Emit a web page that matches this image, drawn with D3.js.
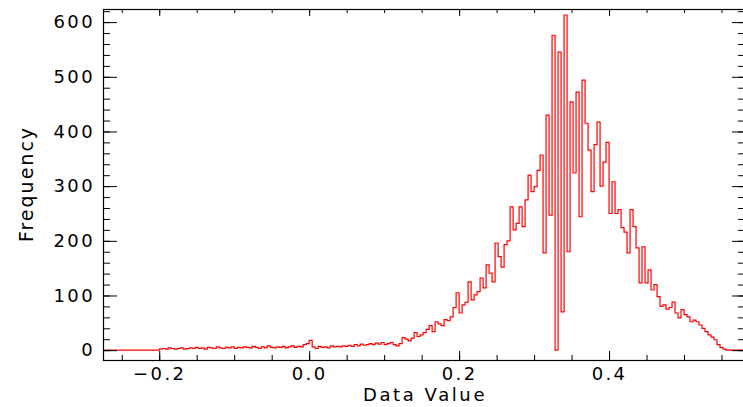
<!DOCTYPE html>
<html>
<head>
<meta charset="utf-8">
<script src="https://cdn.jsdelivr.net/npm/d3@7"></script>
<style>
  body { margin: 0; background: #fff; }
  svg text { font-family: "DejaVu Sans", sans-serif; font-size: 19px; letter-spacing: 2px; fill: #000; }
  svg .tick text { font-size: 18px; letter-spacing: 2.4px; }
  svg text.xtitle { font-size: 18px; letter-spacing: 2.6px; }
</style>
</head>
<body>
<svg id="chart" width="743" height="407"></svg>
<script>
// histogram of data values, bins of 0.004 starting at -0.2
const binStart = -0.2
const binWidth = 0.004
const counts = [
  2, 3, 2, 4, 3, 2, 3, 4, 2, 3,
  4, 3, 5, 3, 4, 2, 5, 4, 3, 6,
  4, 3, 5, 4, 6, 3, 5, 4, 6, 5,
  4, 7, 5, 3, 6, 4, 8, 5, 4, 6,
  5, 7, 4, 6, 8, 5, 7, 6, 10, 12,
  18, 6, 3, 7, 5, 6, 4, 8, 6, 7,
  6, 8, 7, 9, 7, 10, 8, 11, 9, 10,
  12, 10, 13, 11, 14, 10, 12, 14, 10, 8,
  12, 23, 20, 17, 22, 32, 25, 28, 32, 38,
  45, 34, 52, 48, 45, 56, 54, 61, 78, 105,
  68, 83, 88, 125, 92, 101, 107, 132, 114, 156,
  141, 125, 196, 171, 152, 193, 200, 262, 220, 232,
  262, 226, 275, 320, 290, 299, 329, 357, 178, 430,
  247, 576, 0, 545, 70, 613, 180, 454, 324, 472,
  244, 494, 415, 366, 290, 376, 417, 300, 344, 380,
  250, 308, 250, 257, 224, 216, 178, 257, 226, 187,
  123, 189, 123, 147, 110, 120, 98, 80, 83, 75,
  78, 88, 68, 59, 74, 65, 61, 52, 55, 52,
  46, 40, 34, 28, 24, 19, 10, 5, 2
]
const xMajor = [-0.2, 0.0, 0.2, 0.4]
const xLabels = ["\u22120.2", "0.0", "0.2", "0.4"]
const yMajor = [0, 100, 200, 300, 400, 500, 600]

const svg = d3.select("#chart")
const mLeft = 103, mRight = 744, mTop = 9, mBottom = 360

const x = d3.scaleLinear().domain([-0.275, 0.58]).range([mLeft, mRight])
const y = d3.scaleLinear().domain([-18, 624]).range([mBottom, mTop])

const xMinor = d3.range(-0.25, 0.58, 0.05).map(v => +v.toFixed(2))
const yMinor = d3.range(0, 624, 20)

svg.append("clipPath").attr("id", "clip")
  .append("rect").attr("x", mLeft).attr("y", mTop).attr("width", mRight - mLeft).attr("height", mBottom - mTop)

// histogram line
const pts = [[x.domain()[0], 0]]
counts.forEach((c, i) => pts.push([binStart + i * binWidth, c]))
pts.push([binStart + counts.length * binWidth, 0])
pts.push([x.domain()[1], 0])

const line = d3.line()
  .x(d => x(d[0]))
  .y(d => y(d[1]))
  .curve(d3.curveStepAfter)

svg.append("path")
  .datum(pts)
  .attr("clip-path", "url(#clip)")
  .attr("fill", "none")
  .attr("stroke", "#ff0000")
  .attr("stroke-width", 1.2)
  .attr("d", line)

// axes
function plain(g) {
  g.select(".domain").remove()
  g.selectAll("line").attr("stroke", "#000")
}

svg.append("g").attr("transform", `translate(0,${mBottom})`)
  .call(d3.axisBottom(x).tickValues(xMinor).tickSize(-5).tickFormat(""))
  .call(plain)
svg.append("g").attr("transform", `translate(0,${mBottom})`)
  .call(d3.axisBottom(x).tickValues(xMajor).tickSize(-9).tickPadding(7)
    .tickFormat((d, i) => xLabels[i]))
  .call(plain)
  .selectAll("text").attr("font-family", null).attr("font-size", null)

svg.append("g").attr("transform", `translate(0,${mTop})`)
  .call(d3.axisTop(x).tickValues(xMinor).tickSize(-4).tickFormat(""))
  .call(plain)
svg.append("g").attr("transform", `translate(0,${mTop})`)
  .call(d3.axisTop(x).tickValues(xMajor).tickSize(-7).tickFormat(""))
  .call(plain)

svg.append("g").attr("transform", `translate(${mLeft},0)`)
  .call(d3.axisLeft(y).tickValues(yMinor).tickSize(-7).tickFormat(""))
  .call(plain)
svg.append("g").attr("transform", `translate(${mLeft},0)`)
  .call(d3.axisLeft(y).tickValues(yMajor).tickSize(-14).tickPadding(8).tickFormat(d3.format("d")))
  .call(plain)
  .selectAll("text").attr("font-family", null).attr("font-size", null)

svg.append("g").attr("transform", `translate(${mRight},0)`)
  .call(d3.axisRight(y).tickValues(yMinor).tickSize(-6).tickFormat(""))
  .call(plain)
svg.append("g").attr("transform", `translate(${mRight},0)`)
  .call(d3.axisRight(y).tickValues(yMajor).tickSize(-12).tickFormat(""))
  .call(plain)

svg.append("rect")
  .attr("x", mLeft + 0.5).attr("y", mTop + 0.5)
  .attr("width", mRight - mLeft).attr("height", mBottom - mTop)
  .attr("fill", "none").attr("stroke", "#000").attr("stroke-width", 1.2)

svg.append("text")
  .attr("class", "xtitle")
  .attr("x", (mLeft + 743) / 2 + 2).attr("y", 401)
  .attr("text-anchor", "middle")
  .text("Data Value")

svg.append("text")
  .attr("transform", "translate(33,184) rotate(-90)")
  .attr("text-anchor", "middle")
  .text("Frequency")
</script>
</body>
</html>
